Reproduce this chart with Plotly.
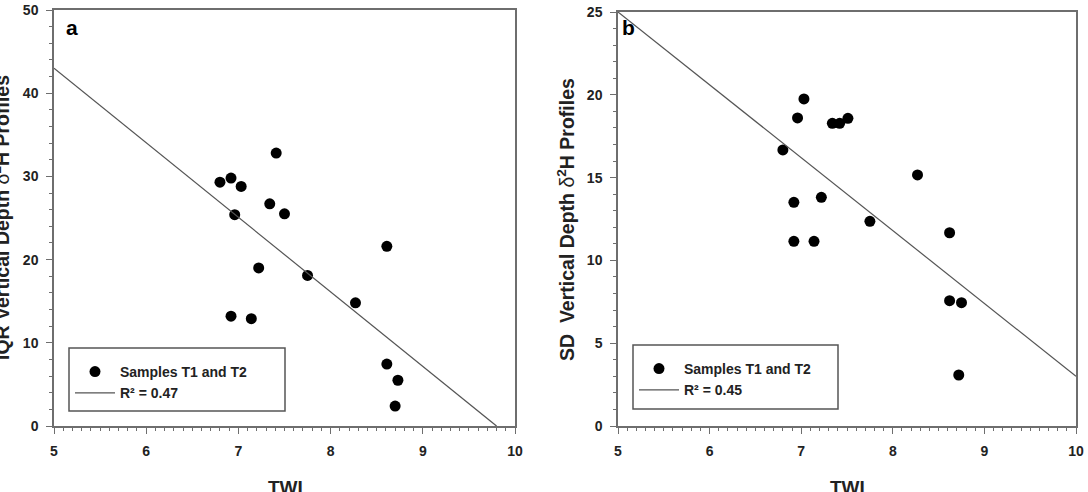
import plotly.graph_objects as go

# ---- data ----
twi_a = [6.80, 6.92, 7.03, 6.96, 7.41, 7.34, 7.50, 7.22, 7.75, 8.27, 6.92, 7.14, 8.61, 8.61, 8.73, 8.70]
iqr_a = [29.3, 29.8, 28.8, 25.4, 32.8, 26.7, 25.5, 19.0, 18.1, 14.8, 13.2, 12.9, 21.6, 7.45, 5.5, 2.4]

twi_b = [7.03, 6.96, 7.34, 7.42, 7.51, 6.80, 8.27, 7.22, 6.92, 7.75, 8.62, 6.92, 7.14, 8.62, 8.75, 8.72]
sd_b = [19.75, 18.6, 18.28, 18.28, 18.58, 16.67, 15.16, 13.81, 13.51, 12.36, 11.67, 11.15, 11.15, 7.57, 7.45, 3.08]

# regression fits (intercept, slope) and drawn x-range
fit_a = (87.8, -8.96)
fit_a_x = [5.0, 9.8]
fit_b = (47.0, -4.4)
fit_b_x = [5.0, 10.0]

W, H = 1088, 492
FONT = "Liberation Sans, Arial, sans-serif"


def px_x(p):
    return p / W


def px_y(p):
    return 1 - p / H


fig = go.Figure()

# invisible companions so the minor-tick axes get drawn (added first => drawn underneath)
fig.add_trace(go.Scatter(x=twi_a, y=iqr_a, mode="markers", marker=dict(opacity=0),
                         showlegend=False, hoverinfo="skip", xaxis="x3", yaxis="y3"))
fig.add_trace(go.Scatter(x=twi_b, y=sd_b, mode="markers", marker=dict(opacity=0),
                         showlegend=False, hoverinfo="skip", xaxis="x4", yaxis="y4"))

mk = dict(color="black", size=11, line=dict(width=0))
fig.add_trace(go.Scatter(x=twi_a, y=iqr_a, mode="markers", marker=mk,
                         name="<b>Samples T1 and T2</b>", legend="legend", xaxis="x", yaxis="y"))
fig.add_trace(go.Scatter(x=fit_a_x, y=[fit_a[0] + fit_a[1] * v for v in fit_a_x], mode="lines",
                         line=dict(color="#555555", width=1.2),
                         name="<b>R² = 0.47</b>", legend="legend", xaxis="x", yaxis="y"))
fig.add_trace(go.Scatter(x=twi_b, y=sd_b, mode="markers", marker=mk,
                         name="<b>Samples T1 and T2</b>", legend="legend2", xaxis="x2", yaxis="y2"))
fig.add_trace(go.Scatter(x=fit_b_x, y=[fit_b[0] + fit_b[1] * v for v in fit_b_x], mode="lines",
                         line=dict(color="#555555", width=1.2),
                         name="<b>R² = 0.45</b>", legend="legend2", xaxis="x2", yaxis="y2"))

AXC = "#6e6e6e"
axis_common = dict(
    showgrid=False, zeroline=False, showline=True, linecolor=AXC, linewidth=1.5,
    mirror=True, ticks="outside", ticklen=6, tickwidth=1.2, tickcolor=AXC,
    tickfont=dict(family=FONT, size=14, color="#222222", weight=700),
    automargin=False, ticklabelstandoff=5,
)
minor_common = dict(showgrid=False, zeroline=False, showline=False, ticks="outside", ticklen=4,
                    tickwidth=1, tickcolor=AXC, showticklabels=False, automargin=False)

legend_common = dict(xanchor="left", yanchor="top", borderwidth=0, bgcolor="rgba(0,0,0,0)",
                     font=dict(family=FONT, size=14, color="#222222", weight=700),
                     tracegroupgap=0, itemwidth=40)

dom_x1 = [px_x(54), px_x(515)]
dom_y1 = [px_y(426), px_y(10)]
dom_x2 = [px_x(618), px_x(1076)]
dom_y2 = [px_y(426), px_y(12)]

fig.update_layout(
    width=W, height=H,
    margin=dict(l=0, r=0, t=0, b=0),
    paper_bgcolor="white", plot_bgcolor="rgba(0,0,0,0)",
    showlegend=True,
    xaxis=dict(domain=dom_x1, range=[5, 10], dtick=1, tick0=5, anchor="y", **axis_common),
    yaxis=dict(domain=dom_y1, range=[0, 50], dtick=10, tick0=0, anchor="x", **axis_common),
    xaxis2=dict(domain=dom_x2, range=[5, 10], dtick=1, tick0=5, anchor="y2", **axis_common),
    yaxis2=dict(domain=dom_y2, range=[0, 25], dtick=5, tick0=0, anchor="x2", **axis_common),
    xaxis3=dict(domain=dom_x1, anchor="y3", side="bottom", range=[5, 10], dtick=0.1, tick0=5, **minor_common),
    yaxis3=dict(domain=dom_y1, anchor="x3", side="left", range=[0, 50], dtick=2, tick0=0, **minor_common),
    xaxis4=dict(domain=dom_x2, anchor="y4", side="bottom", range=[5, 10], dtick=0.1, tick0=5, **minor_common),
    yaxis4=dict(domain=dom_y2, anchor="x4", side="left", range=[0, 25], dtick=1, tick0=0, **minor_common),
    legend=dict(x=px_x(70), y=px_y(356), **legend_common),
    legend2=dict(x=px_x(634), y=px_y(353), **legend_common),
    shapes=[
        dict(type="rect", xref="paper", yref="paper", x0=px_x(69), x1=px_x(285),
             y0=px_y(411), y1=px_y(348), line=dict(color="#555555", width=1.5), layer="below"),
        dict(type="rect", xref="paper", yref="paper", x0=px_x(633), x1=px_x(838),
             y0=px_y(409), y1=px_y(345), line=dict(color="#555555", width=1.5), layer="below"),
    ],
)

title_font = dict(family=FONT, size=19.5, color="#222222")
ann_common = dict(xref="paper", yref="paper", showarrow=False, xanchor="center", yanchor="middle")
anns = [
    dict(text="<b>a</b>", x=px_x(72), y=px_y(27),
         font=dict(family=FONT, size=21, color="black"), **ann_common),
    dict(text="<b>b</b>", x=px_x(628), y=px_y(28),
         font=dict(family=FONT, size=21, color="black"), **ann_common),
    dict(text="<b>TWI</b>", x=px_x(285), y=px_y(487),
         font=dict(family=FONT, size=19, color="#222222"), **ann_common),
    dict(text="<b>TWI</b>", x=px_x(847), y=px_y(487),
         font=dict(family=FONT, size=19, color="#222222"), **ann_common),
    dict(text="<b>IQR Vertical Depth </b>δ<b><sup>2</sup>H Profiles</b>", x=px_x(1), y=px_y(218),
         textangle=-90, font=title_font, **ann_common),
    dict(text="<b>SD  Vertical Depth </b>δ<b><sup>2</sup>H Profiles</b>", x=px_x(566), y=px_y(220),
         textangle=-90, font=title_font, **ann_common),
]
fig.update_layout(annotations=anns)

fig.write_html("out.html")
